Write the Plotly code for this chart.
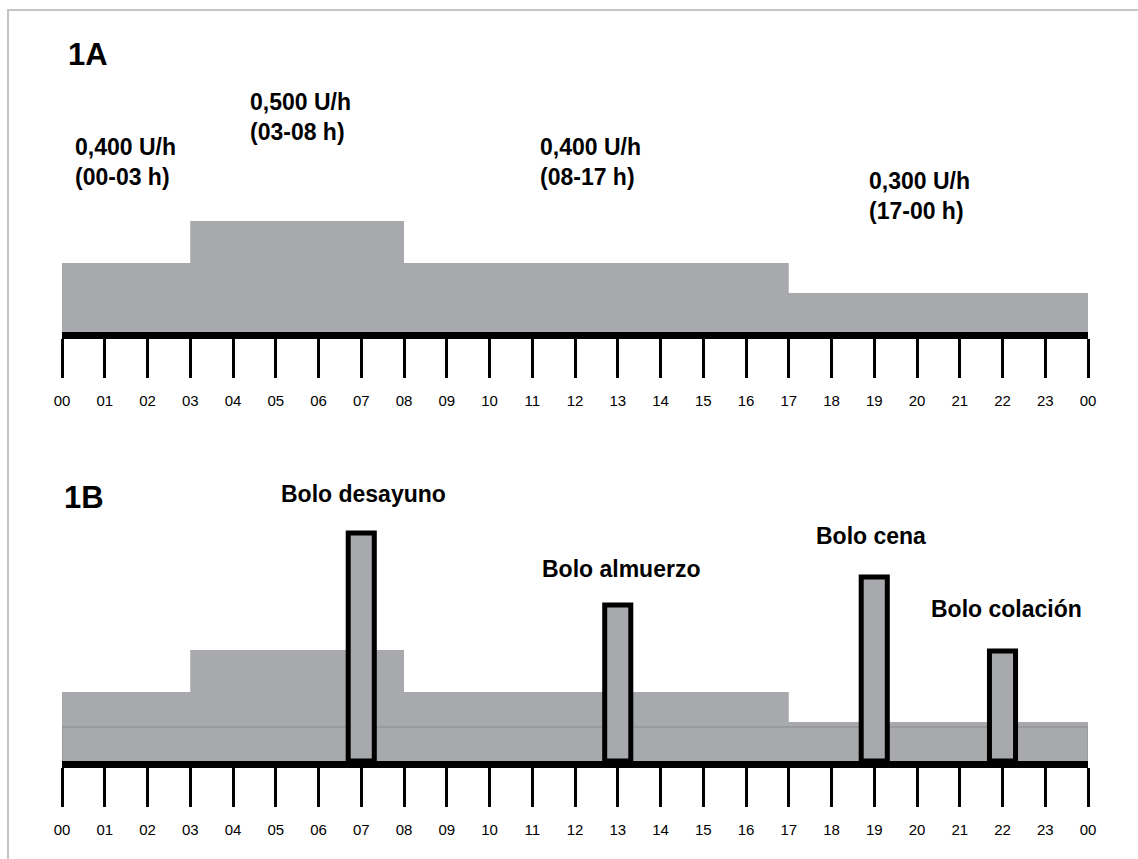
import plotly.graph_objects as go

W, H = 1138, 859
# the page lays the figure out 16 px narrower, starting 8 px in from the left
W_EFF, X_OFF = 1122, 8

# ---------------- data ----------------
hours = list(range(25))
hour_labels = ["00", "01", "02", "03", "04", "05", "06", "07", "08", "09", "10", "11",
               "12", "13", "14", "15", "16", "17", "18", "19", "20", "21", "22", "23", "00"]

# basal profile: change-point hours and drawn levels
basal_x = [0, 3, 8, 17, 24]
basal_level = [69, 111, 69, 39, 39]
basal_labels = ["0,400 U/h<br>(00-03 h)", "0,500 U/h<br>(03-08 h)",
                "0,400 U/h<br>(08-17 h)", "0,300 U/h<br>(17-00 h)"]

# reference 0,300 U/h level drawn across the whole day in panel 1B
ref_x = [0, 0, 24, 24]
ref_level = [0, 34, 34, 0]

# boluses
bolus_hour = [7, 13, 19, 22]
bolus_height = [228, 156, 184, 110]
bolus_names = ["Bolo desayuno", "Bolo almuerzo", "Bolo cena", "Bolo colación"]

# ---------------- styling ----------------
GRAY = "#a7a9ac"
FONT = "Liberation Sans, Arial, sans-serif"


def px_x(p):
    return (p - X_OFF) / W_EFF


def px_y(p):
    return 1 - p / H


fig = go.Figure()

for xa, ya in (("x", "y"), ("x2", "y2")):
    fig.add_trace(go.Scatter(x=basal_x, y=basal_level, mode="lines", line_shape="hv",
                             line=dict(width=0, color=GRAY), fill="tozeroy",
                             fillcolor=GRAY, xaxis=xa, yaxis=ya, hoverinfo="skip",
                             showlegend=False))

fig.add_trace(go.Scatter(x=ref_x, y=ref_level, mode="lines",
                         line=dict(width=1, color="#8a8b8e"), xaxis="x2", yaxis="y2",
                         hoverinfo="skip", showlegend=False))

# boluses on an overlaid subplot so they sit above the basal fill
fig.add_trace(go.Bar(x=bolus_hour, y=bolus_height, width=0.61,
                     marker=dict(color=GRAY, line=dict(color="black", width=5)),
                     xaxis="x3", yaxis="y3", showlegend=False, hoverinfo="skip"))

xdom = [px_x(62), px_x(1088)]
xcommon = dict(domain=xdom, range=[0, 24], tickmode="array", tickvals=hours,
               ticktext=hour_labels, ticks="outside", ticklen=39, tickwidth=3,
               tickcolor="black", showline=True, linewidth=7, linecolor="black",
               showgrid=False, zeroline=False, ticklabelstandoff=10,
               tickfont=dict(family=FONT, size=15, color="black"))

fig.update_layout(
    width=W, height=H, autosize=False, margin=dict(l=0, r=0, t=0, b=0),
    paper_bgcolor="white", plot_bgcolor="rgba(0,0,0,0)",
    xaxis=dict(**xcommon, anchor="y"),
    yaxis=dict(domain=[px_y(332), px_y(20)], range=[0, 312], visible=False),
    xaxis2=dict(**xcommon, anchor="y2"),
    yaxis2=dict(domain=[px_y(761), px_y(440)], range=[0, 321], visible=False),
    xaxis3=dict(overlaying="x2", anchor="y3", range=[0, 24], visible=False),
    yaxis3=dict(overlaying="y2", anchor="x3", range=[0, 321], visible=False),
)

annots = []
# panel labels
for txt, lx, ly in (("1A", 66, 55), ("1B", 62, 497)):
    annots.append(dict(text="<b>" + txt + "</b>", x=px_x(lx), y=px_y(ly),
                       xref="paper", yref="paper", xanchor="left", yanchor="middle",
                       showarrow=False, font=dict(family=FONT, size=31, color="black")))

# basal rate labels
rate_pos = [(73, 162), (248, 117), (538, 162), (867, 196)]
for txt, (lx, ly) in zip(basal_labels, rate_pos):
    annots.append(dict(text="<b>" + txt + "</b>", x=px_x(lx), y=px_y(ly), xref="paper",
                       yref="paper", xanchor="left", yanchor="middle", align="left",
                       showarrow=False, font=dict(family=FONT, size=23, color="black")))

# bolus labels
bolus_pos = [(363, 494), (621, 569), (871, 536), (1006, 609)]
for txt, (lx, ly) in zip(bolus_names, bolus_pos):
    annots.append(dict(text="<b>" + txt + "</b>", x=px_x(lx), y=px_y(ly), xref="paper",
                       yref="paper", xanchor="center", yanchor="middle",
                       showarrow=False, font=dict(family=FONT, size=23, color="black")))

fig.update_layout(annotations=annots)

# faint frame around the figure
fig.add_shape(type="rect", xref="paper", yref="paper", x0=0, x1=1.05,
              y0=-0.05, y1=px_y(10), line=dict(color="#c4c4c4", width=2),
              fillcolor="rgba(0,0,0,0)", layer="below")

fig.write_html("out.html",
               config={"responsive": False, "displayModeBar": False, "staticPlot": True},
               post_script=("document.body.style.margin='0';"
                            "document.body.style.overflow='hidden';"
                            "document.documentElement.style.overflow='hidden';"))
